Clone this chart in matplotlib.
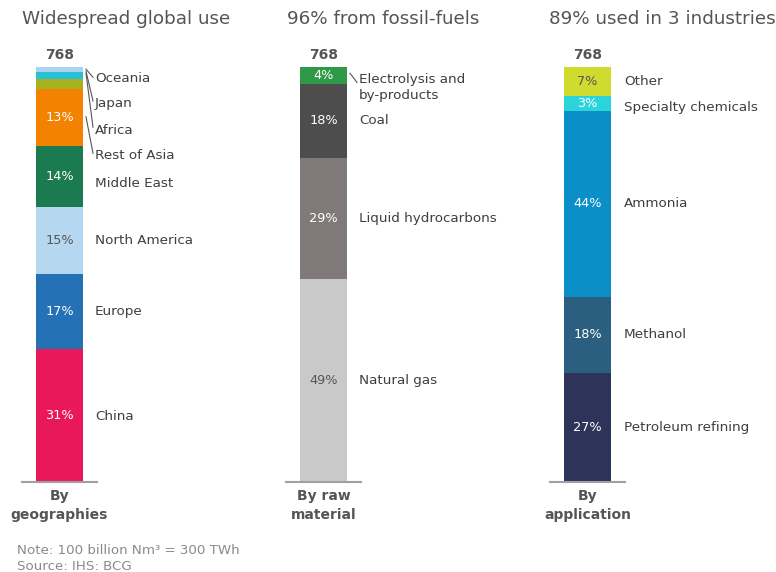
import matplotlib
matplotlib.use("Agg")
import matplotlib.pyplot as plt
from matplotlib.lines import Line2D
from matplotlib.transforms import blended_transform_factory

W, H = 776, 572

# ---------------- data ----------------
total_label = "768"

geo_names = ["China", "Europe", "North America", "Middle East", "Rest of Asia", "Africa", "Japan", "Oceania"]
geo_values = [32.0, 18.1, 16.1, 14.7, 13.7, 2.4, 1.7, 1.2]
geo_shown = ["31%", "17%", "15%", "14%", "13%", "", "", ""]

raw_names = ["Natural gas", "Liquid hydrocarbons", "Coal", "Electrolysis and\nby-products"]
raw_values = [49, 29, 18, 4]
raw_shown = ["49%", "29%", "18%", "4%"]

app_names = ["Petroleum refining", "Methanol", "Ammonia", "Specialty chemicals", "Other"]
app_values = [26.3, 18.3, 44.6, 3.6, 7.0]
app_shown = ["27%", "18%", "44%", "3%", "7%"]

titles = ["Widespread global use", "96% from fossil-fuels", "89% used in 3 industries"]
categories = ["By\ngeographies", "By raw\nmaterial", "By\napplication"]

# ---------------- styles ----------------
geo_colors = ["#E8185A", "#2472B5", "#B5D8F0", "#1B7A50", "#F28200", "#A6B321", "#2BBFD8", "#A9D3EF"]
geo_txt = ["white", "white", "#555555", "white", "white", "white", "white", "white"]
raw_colors = ["#C9C9C9", "#7F7A79", "#4D4D4D", "#2E9A47"]
raw_txt = ["#555555", "white", "white", "white"]
app_colors = ["#2E3359", "#2A5F80", "#0A8FC9", "#2BD3DB", "#CFDB2F"]
app_txt = ["white", "white", "white", "white", "#555555"]

# label y positions as fraction of bar height (layout)
geo_lab = [0.159, 0.412, 0.583, 0.720, 0.786, 0.848, 0.913, 0.973]
raw_lab = [None, None, None, 0.950]
app_lab = [None, None, None, 0.903, 0.965]

# leader lines: (start frac, end frac) for labelled small items
geo_lead = {7: (0.995, 0.975), 6: (0.990, 0.918), 5: (0.985, 0.855), 4: (0.880, 0.792)}
raw_lead = {3: (0.985, 0.963)}

bar_left = [36, 300, 564]
bar_w = 47
bar_bottom = 90
bar_h = 415
label_x = [95, 359, 624]
title_x = [22, 287, 549]

text_col = "#3F3F3F"
plt.rcParams['font.family'] = ['DejaVu Sans']

fig = plt.figure(figsize=(W / 100, H / 100), dpi=100)
fig.patch.set_facecolor("white")

groups = [
    (geo_names, geo_values, geo_shown, geo_colors, geo_txt, geo_lab, geo_lead),
    (raw_names, raw_values, raw_shown, raw_colors, raw_txt, raw_lab, raw_lead),
    (app_names, app_values, app_shown, app_colors, app_txt, app_lab, {}),
]

for gi, (names, vals, shown, cols, tcols, labs, leads) in enumerate(groups):
    ax = fig.add_axes([bar_left[gi] / W, bar_bottom / H, bar_w / W, bar_h / H])
    tot = sum(vals)
    ax.set_xlim(-0.5, 0.5)
    ax.set_ylim(0, tot)
    ax.axis("off")
    bottom = 0
    bt = blended_transform_factory(fig.transFigure, ax.transData)
    for i, v in enumerate(vals):
        ax.bar(0, v, width=1.0, bottom=bottom, color=cols[i], linewidth=0)
        mid = bottom + v / 2
        if shown[i]:
            ax.text(0, mid, shown[i], ha="center", va="center", color=tcols[i], fontsize=9.3)
        ly = labs[i] * tot if labs[i] is not None else mid
        ax.text(label_x[gi] / W, ly, names[i], transform=bt, ha="left", va="center",
                color=text_col, fontsize=9.7, linespacing=1.35)
        if i in leads:
            s, e = leads[i]
            ax.add_line(Line2D([(bar_left[gi] + bar_w + 3) / W, (label_x[gi] - 2) / W],
                               [s * tot, e * tot], transform=bt, color="#555555",
                               lw=0.8, clip_on=False))
        bottom += v
    # total on top
    ax.text(0, tot * 1.012, total_label, ha="center", va="bottom", fontsize=10,
            fontweight="bold", color="#555555")
    # baseline
    fig.add_artist(Line2D([(bar_left[gi] - 14) / W, (bar_left[gi] + bar_w + 14) / W],
                          [bar_bottom / H, bar_bottom / H], color="#A0A0A0", lw=1.5))
    # category label
    fig.text((bar_left[gi] + bar_w / 2) / W, (H - 489) / H, categories[gi], ha="center",
             va="top", fontsize=10, fontweight="bold", color="#555555", linespacing=1.45)
    # title
    fig.text(title_x[gi] / W, (H - 19) / H, titles[gi], ha="left", va="center",
             fontsize=13.2, color="#555555")

fig.text(17 / W, (H - 550) / H, "Note: 100 billion Nm\u00b3 = 300 TWh", ha="left", va="center",
         fontsize=9.6, color="#8A8A8A")
fig.text(17 / W, (H - 566) / H, "Source: IHS: BCG", ha="left", va="center",
         fontsize=9.6, color="#8A8A8A")

fig.savefig("out.png", dpi=100, facecolor="white")
